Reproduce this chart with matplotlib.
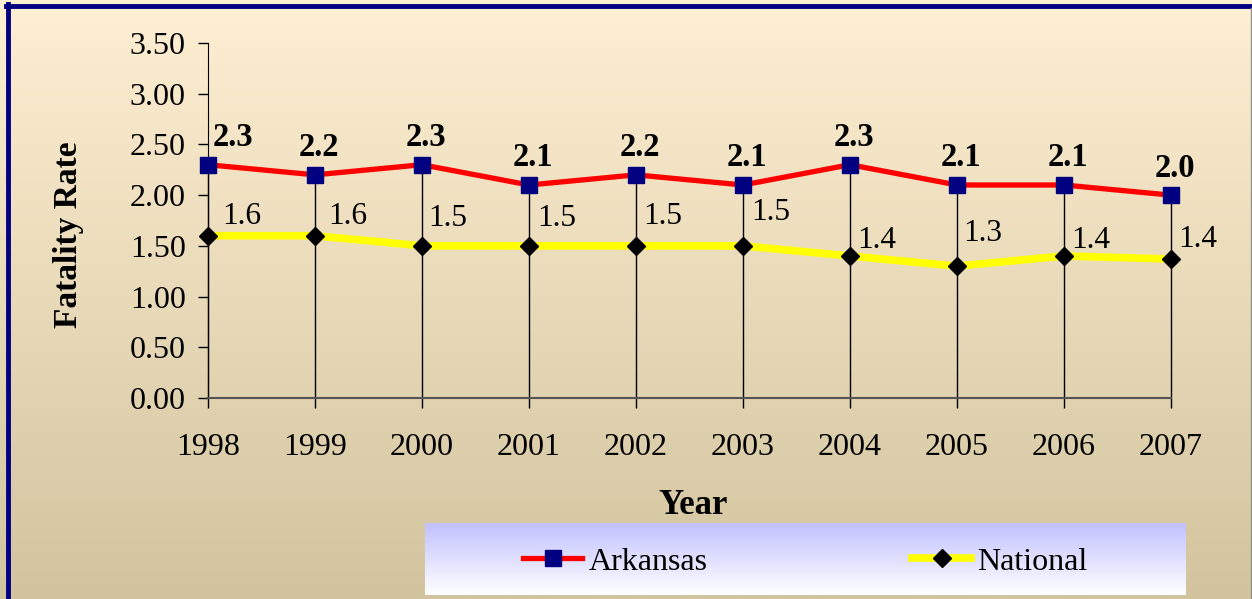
import numpy as np
import matplotlib
matplotlib.use("Agg")
import matplotlib.pyplot as plt
from matplotlib.lines import Line2D

# data
years = ["1998", "1999", "2000", "2001", "2002", "2003", "2004", "2005", "2006", "2007"]
arkansas = [2.3, 2.2, 2.3, 2.1, 2.2, 2.1, 2.3, 2.1, 2.1, 2.0]
national = [1.6, 1.6, 1.5, 1.5, 1.5, 1.5, 1.4, 1.3, 1.4, 1.37]
ark_labels = ["2.3", "2.2", "2.3", "2.1", "2.2", "2.1", "2.3", "2.1", "2.1", "2.0"]
nat_labels = ["1.6", "1.6", "1.5", "1.5", "1.5", "1.5", "1.4", "1.3", "1.4", "1.4"]
yticks = [0.0, 0.5, 1.0, 1.5, 2.0, 2.5, 3.0, 3.5]

# hand placement of the national labels (pixels), like the original
nat_dx = [14, 13, 6, 8, 7, 8, 7, 6, 7, 7]
nat_dy = [19, 19, 27, 27, 29, 33, 15, 33, 16, 20]

plt.rcParams["font.family"] = ["Liberation Serif", "DejaVu Serif"]

W, H = 1252, 599
fig = plt.figure(figsize=(W / 100, H / 100), dpi=100)

# background gradient
bg = fig.add_axes([0, 0, 1, 1], zorder=-10)
top = np.array([255, 239, 211]) / 255
bot = np.array([210, 196, 158]) / 255
t = np.linspace(0, 1, 256)[:, None]
grad = top[None, :] * (1 - t) + bot[None, :] * t
bg.imshow(grad[:, None, :], aspect="auto", extent=[0, 1, 0, 1])
bg.set_xlim(0, 1)
bg.set_ylim(0, 1)
bg.axis("off")

# navy border (top and left), grey edge on the right
fig.add_artist(Line2D([8 / W, 8 / W], [0, 1 - 4 / H], color="#000080", lw=3.5))
fig.add_artist(Line2D([6 / W, 1], [1 - 6 / H, 1 - 6 / H], color="#000080", lw=3.5))
fig.add_artist(Line2D([1 - 1 / W, 1 - 1 / W], [0, 1 - 8 / H], color="#909090", lw=1))

ax = fig.add_axes([208 / W, 1 - 398 / H, (1171 - 208) / W, 355 / H])
ax.set_facecolor("none")
x = np.arange(len(years))

ax.vlines(x, 0, np.maximum(arkansas, national), color="black", lw=1.0, zorder=2,
          clip_on=False)
ax.plot(x, national, color="#FFFF00", lw=5.5, marker="D", ms=9,
        mfc="black", mec="black", zorder=3, label="National", clip_on=False)
ax.plot(x, arkansas, color="#FF0000", lw=3.8, marker="s", ms=11,
        mfc="#000080", mec="#000080", zorder=4, label="Arkansas", clip_on=False)

for i in range(len(x)):
    dx = 25 if i == 0 else 4
    ax.annotate(ark_labels[i], (x[i], arkansas[i]), xytext=(dx * 0.72, 27 * 0.72),
                textcoords="offset points", ha="center", va="center",
                fontsize=23.5, fontweight="bold")
    ax.annotate(nat_labels[i], (x[i], national[i]),
                xytext=(nat_dx[i] * 0.72, nat_dy[i] * 0.72),
                textcoords="offset points", ha="left", va="center", fontsize=22.5)

ax.set_xlim(0, len(years) - 1)
ax.set_ylim(0, 3.5)
ax.set_xticks(x)
ax.set_xticklabels(years)
ax.set_yticks(yticks)
ax.set_yticklabels(["%.2f" % v for v in yticks])
ax.tick_params(axis="both", labelsize=23, color="black", width=1)
ax.tick_params(axis="y", length=7, pad=9)
ax.tick_params(axis="x", length=7, pad=18)
for s in ["top", "right"]:
    ax.spines[s].set_visible(False)
ax.spines["left"].set_color("black")
ax.spines["bottom"].set_color("#555555")
ax.spines["bottom"].set_linewidth(1.5)

fig.text(68 / W, 1 - 235 / H, "Fatality Rate", rotation=90, ha="center", va="center",
         fontsize=24, fontweight="bold")
fig.text(693 / W, 1 - 505 / H, "Year", ha="center", va="center",
         fontsize=25, fontweight="bold")

# legend box with lavender-to-white gradient
lg = fig.add_axes([425 / W, 1 - 595 / H, (1186 - 425) / W, 72 / H], zorder=5)
lt = np.array([192, 192, 255]) / 255
lb = np.array([255, 255, 255]) / 255
lgrad = lt[None, :] * (1 - t) + lb[None, :] * t
lg.imshow(lgrad[:, None, :], aspect="auto", extent=[0, 1, 0, 1])
lg.set_xlim(0, 1)
lg.set_ylim(0, 1)
lg.axis("off")
handles, labels = ax.get_legend_handles_labels()
order = [1, 0]
leg = lg.legend([handles[i] for i in order], [labels[i] for i in order],
                loc="center", ncol=2, frameon=False, fontsize=23,
                handlelength=1.85, handletextpad=0.2, columnspacing=6.4,
                bbox_to_anchor=(0.5, 0.46))

fig.savefig("out.png", dpi=100)
